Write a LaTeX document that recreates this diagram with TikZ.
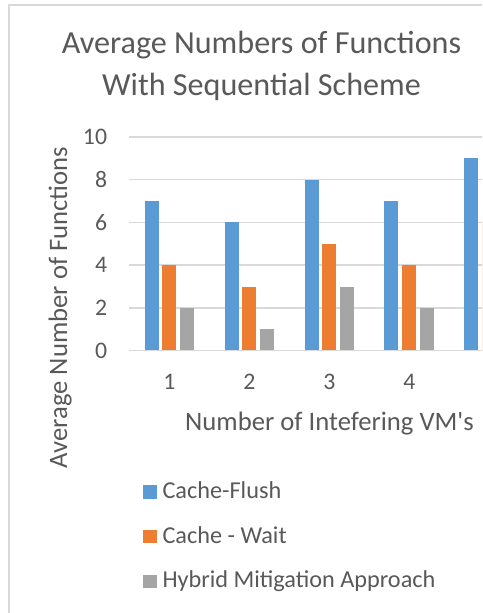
\documentclass[tikz,border=0pt]{standalone}
\usepackage{fontspec}
\setmainfont{Carlito}
\usetikzlibrary{positioning}
\definecolor{barblue}{HTML}{5B9BD5}
\definecolor{barorange}{HTML}{ED7D31}
\definecolor{bargray}{HTML}{A5A5A5}
\definecolor{gridgray}{HTML}{D9D9D9}
\definecolor{txtgray}{HTML}{595959}
\tikzset{frame/.style={draw=gridgray,line width=1.1pt}}
\tikzset{grid line/.style={draw=gridgray,line width=1.1pt}}
\tikzset{ttl/.style={text=txtgray,inner sep=0pt,font=\fontsize{24.1}{28}\selectfont}}
\tikzset{axttl/.style={text=txtgray,inner sep=0pt,font=\fontsize{20}{24}\selectfont}}
\tikzset{tck/.style={text=txtgray,inner sep=0pt,font=\fontsize{17.8}{21}\selectfont}}
\tikzset{cat/.style={text=txtgray,inner sep=0pt,font=\fontsize{17.8}{21}\selectfont}}
\tikzset{lgd/.style={text=txtgray,inner sep=0pt,font=\fontsize{18.2}{22}\selectfont}}
\tikzset{key/.style={inner sep=0pt,outer sep=0pt,minimum size=10pt}}

\begin{document}
\begin{tikzpicture}[x=0.75pt,y=-0.75pt]
        \useasboundingbox (0,0) rectangle (482,613);
        \clip (0,0) rectangle (482,613);
        \fill[white] (0,0) rectangle (482,613);
        \draw[frame] (9,613) -- (9,5) -- (482,5);
        % title
        \node[ttl,anchor=base] (title1) at (261.5,53.3) {Average Numbers of Functions};
        \node[ttl,anchor=base] (title2) at (261.5,95.7) {With Sequential Scheme};
        % grid and value axis
        \foreach \v in {2,4,...,10} {
          \draw[grid line] (129,{350.7-21.375*\v}) -- (482,{350.7-21.375*\v});
        }
        \foreach \v in {0,2,...,10} {
          \node[tck,anchor=east] (ytick\v) at (107.3,{350.7-21.375*\v}) {\v};
        }
        % bars
        \foreach \g/\a/\b/\c in {1/7/4/2,2/6/3/1,3/8/5/3,4/7/4/2,5/9/6/0} {
          \pgfmathsetmacro\xl{144.7+79.9*(\g-1)}
          \fill[barblue] (\xl,350.7) rectangle ++(14,{-21.375*\a});
          \fill[barorange] (\xl+17.6,350.7) rectangle ++(14,{-21.375*\b});
          \fill[bargray] (\xl+35.6,350.7) rectangle ++(14,{-21.375*\c});
        }
        \draw[grid line] (129,350.7) -- (482,350.7);
        \foreach \g in {1,2,3,4} {
          \node[cat,anchor=base] (cat\g) at ({169.3+80*(\g-1)},389.3) {\g};
        }
        % axis titles
        \node[axttl,anchor=base] (xtitle) at (329.5,430) {Number of Intefering VM\textquotesingle s};
        \node[axttl,anchor=base,rotate=90] (ytitle) at (67,307.5) {Average Number of Functions};
        % legend
        \node[key,fill=barblue] (key1) at (150,492) {};
        \node[key,fill=barorange] (key2) at (150,536.4) {};
        \node[key,fill=bargray] (key3) at (150,581.2) {};
        \node[lgd,right=4.2pt of key1.south east,anchor=base west] (lbl1) {Cache-Flush};
        \node[lgd,right=4.2pt of key2.south east,anchor=base west] (lbl2) {Cache - Wait};
        \node[lgd,right=4.2pt of key3.south east,anchor=base west] (lbl3) {Hybrid Mitigation Approach};
      \end{tikzpicture}
\end{document}
